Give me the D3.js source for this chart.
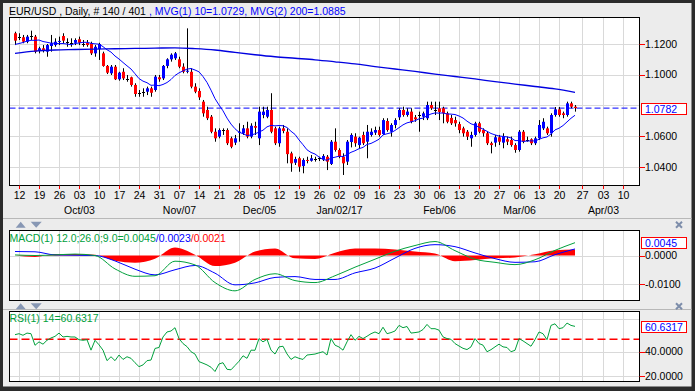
<!DOCTYPE html>
<html><head><meta charset="utf-8">
<script src="https://cdn.jsdelivr.net/npm/d3@7"></script>
<style>
html,body{margin:0;padding:0;background:#2b2b2b;}
svg{display:block;}
text{font-family:"Liberation Sans",Arial,sans-serif;font-size:10.5px;}
</style></head><body>
<svg id="c" width="695" height="391"></svg>
<script>
// ---------------- DATA ----------------
const open = [1.1270,1.1248,1.1244,1.1215,1.1248,1.1248,1.1161,1.1172,1.1150,1.1187,
1.1193,1.1215,1.1252,1.1215,1.1208,1.1208,1.1231,1.1205,1.1208,1.1205,
1.1139,1.1167,1.1139,1.1057,1.1009,1.1052,1.0970,1.1019,1.0976,1.0983,
1.0933,1.0882,1.0889,1.0889,1.0911,1.0900,1.0983,1.0976,1.1057,1.1100,
1.1107,1.1100,1.1052,1.1019,1.1019,1.0922,1.0894,1.0824,1.0770,1.0726,
1.0628,1.0596,1.0639,1.0639,1.0585,1.0557,1.0624,1.0618,1.0650,1.0596,
1.0665,1.0585,1.0737,1.0726,1.0770,1.0650,1.0553,1.0650,1.0628,1.0487,
1.0426,1.0455,1.0404,1.0444,1.0439,1.0455,1.0452,1.0448,1.0465,1.0418,
1.0563,1.0509,1.0465,1.0433,1.0561,1.0596,1.0541,1.0607,1.0563,1.0607,
1.0622,1.0639,1.0613,1.0698,1.0628,1.0672,1.0722,1.0770,1.0737,1.0759,
1.0722,1.0737,1.0726,1.0716,1.0802,1.0770,1.0781,1.0781,1.0748,1.0718,
1.0704,1.0678,1.0650,1.0628,1.0585,1.0607,1.0683,1.0639,1.0618,1.0553,
1.0557,1.0592,1.0557,1.0579,1.0574,1.0541,1.0509,1.0628,1.0579,1.0579,
1.0553,1.0585,1.0650,1.0650,1.0618,1.0737,1.0774,1.0748,1.0737,1.0813,
1.0791];
const high = [1.1280,1.1270,1.1259,1.1259,1.1287,1.1259,1.1182,1.1193,1.1200,1.1259,
1.1237,1.1248,1.1270,1.1237,1.1237,1.1237,1.1248,1.1226,1.1226,1.1215,
1.1193,1.1208,1.1150,1.1063,1.1063,1.1063,1.1019,1.1042,1.0998,1.0987,
1.0944,1.0900,1.0911,1.0922,1.0922,1.0998,1.0998,1.1063,1.1107,1.1139,
1.1148,1.1117,1.1074,1.1302,1.1042,1.0944,1.0911,1.0835,1.0791,1.0737,
1.0650,1.0650,1.0650,1.0650,1.0596,1.0607,1.0683,1.0672,1.0693,1.0683,
1.0693,1.0791,1.0791,1.0791,1.0879,1.0661,1.0661,1.0672,1.0650,1.0498,
1.0465,1.0465,1.0455,1.0465,1.0476,1.0465,1.0465,1.0482,1.0476,1.0574,
1.0650,1.0520,1.0487,1.0574,1.0618,1.0618,1.0596,1.0628,1.0672,1.0650,
1.0661,1.0661,1.0716,1.0716,1.0683,1.0716,1.0781,1.0791,1.0781,1.0781,
1.0737,1.0759,1.0759,1.0824,1.0824,1.0824,1.0824,1.0791,1.0759,1.0737,
1.0726,1.0693,1.0661,1.0639,1.0628,1.0693,1.0693,1.0650,1.0628,1.0563,
1.0607,1.0607,1.0618,1.0596,1.0596,1.0553,1.0639,1.0639,1.0596,1.0585,
1.0596,1.0704,1.0716,1.0661,1.0748,1.0789,1.0789,1.0759,1.0824,1.0824,
1.0802];
const low = [1.1193,1.1226,1.1205,1.1205,1.1226,1.1139,1.1139,1.1145,1.1117,1.1150,
1.1182,1.1193,1.1205,1.1182,1.1182,1.1193,1.1193,1.1182,1.1182,1.1128,
1.1117,1.1096,1.1052,1.1004,1.0998,1.0965,1.0961,1.0965,1.0954,1.0922,
1.0856,1.0856,1.0856,1.0867,1.0856,1.0889,1.0954,1.0965,1.1042,1.1085,
1.1096,1.1042,1.1009,1.1009,1.0911,1.0879,1.0835,1.0726,1.0704,1.0618,
1.0563,1.0585,1.0607,1.0541,1.0520,1.0541,1.0563,1.0607,1.0585,1.0585,
1.0607,1.0541,1.0716,1.0716,1.0618,1.0541,1.0530,1.0618,1.0422,1.0367,
1.0411,1.0367,1.0357,1.0422,1.0433,1.0433,1.0437,1.0437,1.0378,1.0411,
1.0498,1.0455,1.0346,1.0411,1.0526,1.0530,1.0520,1.0541,1.0455,1.0596,
1.0607,1.0596,1.0607,1.0628,1.0596,1.0650,1.0704,1.0726,1.0726,1.0683,
1.0693,1.0628,1.0704,1.0704,1.0770,1.0737,1.0704,1.0683,1.0683,1.0672,
1.0661,1.0618,1.0596,1.0574,1.0530,1.0596,1.0618,1.0596,1.0541,1.0487,
1.0530,1.0541,1.0520,1.0541,1.0530,1.0491,1.0498,1.0553,1.0563,1.0541,
1.0541,1.0574,1.0639,1.0607,1.0596,1.0726,1.0726,1.0716,1.0726,1.0781,
1.0759];
const close = [1.1222,1.1246,1.1215,1.1248,1.1250,1.1150,1.1172,1.1156,1.1193,1.1205,
1.1215,1.1220,1.1222,1.1213,1.1207,1.1226,1.1208,1.1202,1.1193,1.1139,
1.1182,1.1200,1.1057,1.1013,1.1052,1.0970,1.1013,1.0976,1.0974,1.0933,
1.0874,1.0883,1.0890,1.0911,1.0882,1.0987,1.0970,1.1057,1.1100,1.1130,
1.1139,1.1052,1.1019,1.1026,1.0922,1.0889,1.0852,1.0748,1.0716,1.0628,
1.0585,1.0639,1.0637,1.0553,1.0530,1.0585,1.0628,1.0650,1.0596,1.0667,
1.0654,1.0759,1.0759,1.0770,1.0628,1.0553,1.0650,1.0633,1.0482,1.0422,
1.0450,1.0400,1.0444,1.0439,1.0455,1.0452,1.0455,1.0470,1.0433,1.0563,
1.0509,1.0465,1.0422,1.0563,1.0607,1.0553,1.0589,1.0553,1.0628,1.0628,
1.0639,1.0607,1.0704,1.0639,1.0672,1.0704,1.0770,1.0737,1.0759,1.0693,
1.0709,1.0735,1.0748,1.0802,1.0781,1.0772,1.0757,1.0748,1.0693,1.0683,
1.0683,1.0639,1.0618,1.0596,1.0607,1.0683,1.0628,1.0618,1.0553,1.0541,
1.0592,1.0563,1.0596,1.0563,1.0541,1.0509,1.0628,1.0563,1.0576,1.0553,
1.0585,1.0672,1.0693,1.0618,1.0737,1.0774,1.0737,1.0737,1.0813,1.0791,
1.0782];
// closes of the 9 sessions before the first bar (warm-up for the 10-day average)
const priorClose = [1.1190,1.1147,1.1157,1.1196,1.1155,1.1150,1.1254,1.1241,1.1261];

// 200-day average, read every 5 bars
const ma200Bar = [0,5,10,15,20,25,30,35,40,45,50,55,60,65,70,75,80,85,90,95,100,105,110,115,120,125,130,135,140];
const ma200 = [1.1139,1.1154,1.1161,1.1164,1.1167,1.1169,1.1171,1.1173,1.1175,1.1170,1.1161,1.1145,1.1130,1.1117,1.1107,1.1097,1.1084,1.1070,1.1053,1.1037,1.1021,1.1004,1.0988,1.0972,1.0955,1.0939,1.0923,1.0907,1.0885];

// MACD (12,26,9), read every 5 bars
const macdBar = ma200Bar;
const macdLine = [0.0002,0.0000,0.0002,0.0005,0.0000,-0.0047,-0.0073,-0.0071,-0.0020,-0.0033,-0.0095,-0.0124,-0.0084,-0.0064,-0.0088,-0.0095,-0.0071,-0.0041,-0.0013,0.0015,0.0035,0.0049,0.0017,-0.0013,-0.0024,-0.0032,-0.0015,0.0018,0.0045];
const macdSignal = [0.0014,0.0013,0.0002,0.0001,0.0000,-0.0019,-0.0048,-0.0068,-0.0050,-0.0035,-0.0062,-0.0103,-0.0096,-0.0077,-0.0074,-0.0084,-0.0084,-0.0061,-0.0044,-0.0009,0.0025,0.0038,0.0031,0.0009,-0.0011,-0.0024,-0.0022,0.0003,0.0023];
const macdHist = [0.0000,-0.0005,0.0005,0.0005,0.0003,-0.0018,-0.0025,-0.0011,0.0028,0.0003,-0.0037,-0.0025,0.0014,0.0025,-0.0010,-0.0012,0.0010,0.0025,0.0025,0.0021,0.0014,0.0007,-0.0020,-0.0016,-0.0010,-0.0007,0.0004,0.0018,0.0021];

// RSI(14), one value per bar
const rsi = [53.8,54.6,53.3,55.1,54.6,45.1,47.9,46.0,49.2,51.1,
52.4,55.1,51.9,52.4,51.9,51.9,49.7,49.2,49.7,41.1,
49.2,45.5,41.1,32.5,35.7,32.5,37.1,33.5,35.7,34.4,
30.8,27.6,29.0,32.5,33.0,42.5,43.3,51.9,56.0,56.8,
59.5,50.6,46.5,44.0,39.8,37.9,31.7,30.4,29.0,27.1,
23.6,29.8,30.8,25.4,25.0,28.5,32.0,36.5,34.4,41.1,
41.0,50.6,47.9,50.0,41.1,37.9,43.8,44.3,38.0,33.5,
35.7,34.4,33.5,37.1,37.5,37.9,38.9,39.8,37.1,50.6,
45.2,43.7,41.1,47.9,53.8,49.2,52.4,50.6,52.5,54.6,
56.0,54.6,59.9,54.6,55.5,56.8,61.4,59.5,60.5,55.1,
55.5,56.0,58.0,62.2,58.7,58.7,57.5,52.0,50.6,50.0,
46.5,44.5,42.6,41.6,43.8,50.6,46.5,45.2,39.8,41.5,
43.8,46.0,43.8,43.3,39.8,41.0,50.6,48.7,46.5,44.3,
49.7,56.0,54.6,49.7,61.4,62.7,58.7,59.5,63.3,61.4,
60.6];

// x-axis (weekly Mondays) and months
const tickBar = [1,6,11,16,21,26,31,36,41,46,51,56,61,66,71,76,81,86,91,96,101,106,111,116,121,126,131,136,141.8,147,152];
const tickLabel = ["12","19","26","03","10","17","24","31","07","14","21","28","05","12","19","26","02","09","16","23","30","06","13","20","27","06","13","20","27","03","10"];
const monthTick = [3,8,12,16,21,25,29];
const monthLabel = ["Oct/03","Nov/07","Dec/05","Jan/02/17","Feb/06","Mar/06","Apr/03"];

const priceGrid = [1.12,1.10,1.08,1.06,1.04];
const priceLabels = [1.12,1.10,1.06,1.04];   // 1.0800 sits under the last-price box
const macdTicks = [0,-0.01];
const rsiTicks = [40,20];
const rsiGrid = [20,40,67];
const rsiMid = 50;

// ---------------- CHART ----------------
const svg = d3.select("#c");
const n = close.length;
const L = 9.5, R = 639.5;
const xs = d3.scaleLinear().domain([0,140]).range([15,575]);
const ys = d3.scaleLinear().domain([1.04,1.12]).range([166.7,44]);
const ym = d3.scaleLinear().domain([0,-0.01]).range([255.5,284]);
const yr = d3.scaleLinear().domain([40,20]).range([351.5,375.9]);
const panes = {main:[17.5,185.5], macd:[230.5,300.5], rsi:[311.5,381.5]};
const BLUE="#0000ff", RED="#ff0000", GREEN="#00a03c", GRID="#d9d9d9";

// background
svg.append("rect").attr("x",3).attr("y",3).attr("width",688.5).attr("height",383.5).attr("fill","#ececec");
svg.append("line").attr("x1",3).attr("x2",691.5).attr("y1",218.5).attr("y2",218.5).attr("stroke","#b8b8b8");
svg.append("line").attr("x1",3).attr("x2",691.5).attr("y1",309.5).attr("y2",309.5).attr("stroke","#b8b8b8");

const defs = svg.append("defs");
Object.entries(panes).forEach(([k,[t,b]])=>{
  defs.append("clipPath").attr("id","clip-"+k).append("rect").attr("x",L).attr("y",t).attr("width",R-L).attr("height",b-t);
  svg.append("rect").attr("x",L).attr("y",t).attr("width",R-L).attr("height",b-t).attr("fill","#fff");
  svg.append("g").selectAll("line").data(tickBar).join("line")
    .attr("x1",d=>Math.round(xs(d))+0.5).attr("x2",d=>Math.round(xs(d))+0.5)
    .attr("y1",t).attr("y2",b).attr("stroke",GRID);
});
const hgrid = (vals, sc) => svg.append("g").selectAll("line").data(vals).join("line")
  .attr("x1",L).attr("x2",R).attr("y1",d=>Math.round(sc(d))+0.5).attr("y2",d=>Math.round(sc(d))+0.5).attr("stroke",GRID);
hgrid(priceGrid, ys); hgrid(macdTicks, ym); hgrid(rsiGrid, yr);

// ---- main pane ----
const gm = svg.append("g").attr("clip-path","url(#clip-main)");
const lastClose = close[n-1];
gm.append("line").attr("x1",L).attr("x2",R).attr("y1",ys(lastClose)).attr("y2",ys(lastClose))
  .attr("stroke",BLUE).attr("stroke-dasharray","6,3");
const bars = d3.range(n);
const isDoji = i => Math.abs(open[i]-close[i])<0.00035;
gm.append("g").selectAll("line").data(bars).join("line")
  .attr("x1",i=>Math.round(xs(i))+0.5).attr("x2",i=>Math.round(xs(i))+0.5)
  .attr("y1",i=>ys(high[i])).attr("y2",i=>ys(low[i])).attr("stroke","#000");
gm.append("g").selectAll("rect").data(bars).join("rect")
  .attr("x",i=>Math.round(xs(i))-1).attr("width",3)
  .attr("y",i=>isDoji(i)?Math.round(ys(close[i])):ys(Math.max(open[i],close[i])))
  .attr("height",i=>isDoji(i)?1:Math.max(1,ys(Math.min(open[i],close[i]))-ys(Math.max(open[i],close[i]))))
  .attr("fill",i=>isDoji(i)?"#000":(close[i]>open[i]?BLUE:RED));
const allClose = priorClose.concat(close);
const ma10 = close.map((c,i)=>d3.mean(allClose.slice(i, i+10)));
gm.append("path").datum(ma10).attr("fill","none").attr("stroke",BLUE).attr("stroke-width",1)
  .attr("d",d3.line().x((d,i)=>xs(i)).y(d=>ys(d)));
gm.append("path").datum(ma200).attr("fill","none").attr("stroke","#0000e0").attr("stroke-width",1.3)
  .attr("d",d3.line().x((d,i)=>xs(ma200Bar[i])).y(d=>ys(d)).curve(d3.curveMonotoneX));

// ---- MACD pane ----
const gc = svg.append("g").attr("clip-path","url(#clip-macd)");
gc.append("path").datum(macdHist).attr("fill",RED)
  .attr("d",d3.area().x((d,i)=>xs(macdBar[i])).y0(ym(0)).y1(d=>ym(d)).curve(d3.curveMonotoneX));
gc.append("path").datum(macdSignal).attr("fill","none").attr("stroke",BLUE)
  .attr("d",d3.line().x((d,i)=>xs(macdBar[i])).y(d=>ym(d)).curve(d3.curveMonotoneX));
gc.append("path").datum(macdLine).attr("fill","none").attr("stroke",GREEN)
  .attr("d",d3.line().x((d,i)=>xs(macdBar[i])).y(d=>ym(d)).curve(d3.curveMonotoneX));

// ---- RSI pane ----
const gr = svg.append("g").attr("clip-path","url(#clip-rsi)");
gr.append("line").attr("x1",L).attr("x2",R).attr("y1",yr(rsiMid)).attr("y2",yr(rsiMid))
  .attr("stroke",RED).attr("stroke-width",1.5).attr("stroke-dasharray","8,4");
gr.append("path").datum(rsi).attr("fill","none").attr("stroke",GREEN)
  .attr("d",d3.line().x((d,i)=>xs(i)).y(d=>yr(d)));

// frames
Object.values(panes).forEach(([t,b])=>{
  svg.append("rect").attr("x",L).attr("y",t).attr("width",R-L).attr("height",b-t).attr("fill","none").attr("stroke","#000");
});

// x axis
const xa = svg.append("g");
xa.selectAll("line").data(tickBar).join("line")
  .attr("x1",d=>Math.round(xs(d))+0.5).attr("x2",d=>Math.round(xs(d))+0.5)
  .attr("y1",185.5).attr("y2",189).attr("stroke",RED);
xa.selectAll("text.t").data(tickLabel).join("text").attr("class","t")
  .attr("x",(d,i)=>xs(tickBar[i])+0.5).attr("y",199).attr("text-anchor","middle").attr("fill","#000").text(d=>d);
xa.selectAll("text.m").data(monthLabel).join("text").attr("class","m")
  .attr("x",(d,i)=>xs(tickBar[monthTick[i]])+0.5).attr("y",214).attr("text-anchor","middle").attr("fill","#000").text(d=>d);

// right axes
function rightAxis(vals, sc, fmt){
  const g = svg.append("g");
  g.selectAll("line").data(vals).join("line").attr("x1",R).attr("x2",645).attr("y1",d=>Math.round(sc(d))+0.5).attr("y2",d=>Math.round(sc(d))+0.5).attr("stroke",RED);
  g.selectAll("text").data(vals).join("text").attr("x",645).attr("y",d=>sc(d)+3.8).attr("fill","#000").text(fmt);
}
rightAxis(priceLabels, ys, d3.format(".4f"));
rightAxis(macdTicks, ym, d=>d3.format(".4f")(d).replace("−","-"));
rightAxis(rsiTicks, yr, d3.format(".4f"));
function valueBox(v, sc, label){
  const cy = sc(v);
  svg.append("rect").attr("x",641.5).attr("y",Math.round(cy-5.5)+0.5).attr("width",45).attr("height",11).attr("fill","#fff").attr("stroke",RED);
  svg.append("text").attr("x",645).attr("y",Math.round(cy-5.5)+10).attr("fill",BLUE).text(label);
}
valueBox(lastClose, ys, d3.format(".4f")(lastClose));
valueBox(macdLine[macdLine.length-1], ym, d3.format(".4f")(macdLine[macdLine.length-1]));
valueBox(rsi[n-1], yr, "60.6317");

// titles
const t1 = svg.append("text").attr("x",9).attr("y",15);
t1.append("tspan").attr("fill","#000").text("EUR/USD , Daily, # 140 / 401 ");
t1.append("tspan").attr("fill",BLUE).text(", MVG(1) 10=1.0729, MVG(2) 200=" + d3.format(".4f")(ma200[ma200.length-1]));
const t2 = svg.append("text").attr("x",9.5).attr("y",241.5);
t2.append("tspan").attr("fill",GREEN).text("MACD(1) 12.0;26.0;9.0=" + d3.format(".4f")(macdLine[macdLine.length-1]));
t2.append("tspan").attr("fill",BLUE).text("/" + d3.format(".4f")(macdSignal[macdSignal.length-1]));
t2.append("tspan").attr("fill",RED).text("/" + d3.format(".4f")(macdHist[macdHist.length-1]));
svg.append("text").attr("x",9.5).attr("y",321.5).attr("fill",GREEN).text("RSI(1) 14=60.6317");

// pane icons
[0,81.6].forEach(dy=>{
  svg.append("path").attr("d",`M15.7,${227.7+dy}L25.7,${227.7+dy}L20.7,${221.7+dy}Z`).attr("fill","#8797b4");
  svg.append("path").attr("d",`M30.7,${221.7+dy}L41.7,${221.7+dy}L36.2,${227.7+dy}Z`).attr("fill","#8797b4");
  const cx=679, cy=224.7+dy;
  svg.append("path").attr("d",`M${cx-3},${cy-3}L${cx+3},${cy+3}M${cx+3},${cy-3}L${cx-3},${cy+3}`).attr("stroke","#7d8daa").attr("stroke-width",2);
});
</script></body></html>
